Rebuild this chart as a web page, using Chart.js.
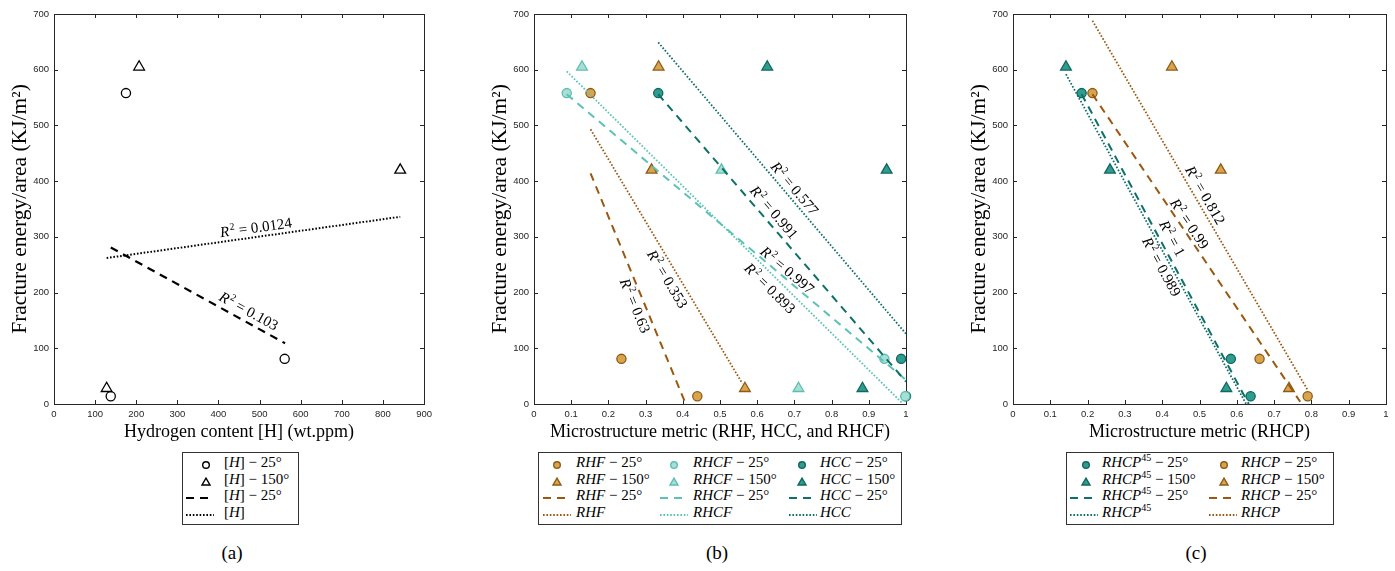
<!DOCTYPE html>
<html><head><meta charset="utf-8">
<script src="https://cdn.jsdelivr.net/npm/chart.js@4.4.1/dist/chart.umd.min.js"></script>
<style>
body{margin:0;background:#fff;width:1395px;height:571px;position:relative;overflow:hidden;font-family:'Liberation Serif',serif;}
.cv{position:absolute;top:0;}
.legend{position:absolute;border:1px solid #333;box-sizing:border-box;background:#fff;}
.li{position:absolute;font-size:15px;line-height:16px;height:16px;white-space:nowrap;color:#000}
.sw{position:absolute;}
.cap{position:absolute;font-size:19px;line-height:20px;transform:translateX(-50%);top:543px}
i{font-style:italic}
sup{font-size:10px;line-height:0;vertical-align:0;position:relative;top:-6px}
</style></head><body>
<div class="cv" style="left:0px"><canvas id="ca" width="437" height="450"></canvas></div>
<div class="cv" style="left:480px"><canvas id="cb" width="436" height="450"></canvas></div>
<div class="cv" style="left:959px"><canvas id="cc" width="437" height="450"></canvas></div>
<div id="legends"></div>
<div class="cap" style="left:232px">(a)</div>
<div class="cap" style="left:717px">(b)</div>
<div class="cap" style="left:1196px">(c)</div>
<script>
// ---------- tick values / labels ----------
const yTicks = [0, 100, 200, 300, 400, 500, 600, 700];
const yTickLabels = ['0', '100', '200', '300', '400', '500', '600', '700'];
const xTicksH = [0, 100, 200, 300, 400, 500, 600, 700, 800, 900];
const xTickLabelsH = ['0', '100', '200', '300', '400', '500', '600', '700', '800', '900'];
const xTicksM = [0, 0.1, 0.2, 0.3, 0.4, 0.5, 0.6, 0.7, 0.8, 0.9, 1];
const xTickLabelsM = ['0', '0.1', '0.2', '0.3', '0.4', '0.5', '0.6', '0.7', '0.8', '0.9', '1'];

// ---------- measured fracture energy (y) ----------
const energy25 = [558, 81, 14];
const energy150 = [605, 420, 28];

// ---------- panel (a): hydrogen content ----------
const hydrogen25 = [175, 561, 138];
const hydrogen150 = [207, 842, 128];
const fitH25 = [[138, 281], [562, 109]];
const fitH = [[128, 262], [842, 336]];

// ---------- panel (b): microstructure metrics ----------
const rhf25 = [0.152, 0.235, 0.439];
const rhf150 = [0.335, 0.316, 0.567];
const rhcf25 = [0.088, 0.942, 0.998];
const rhcf150 = [0.129, 0.504, 0.711];
const hcc25 = [0.334, 0.987, 1.0];
const hcc150 = [0.627, 0.948, 0.883];
const fitRHF25 = [[0.152, 414], [0.408, 0]];
const fitRHF = [[0.152, 493], [0.560, 37]];
const fitRHCF25 = [[0.088, 556], [1.0, 43]];
const fitRHCF = [[0.088, 597], [0.991, 1]];
const fitHCC25 = [[0.334, 556], [1.0, 40]];
const fitHCC = [[0.334, 649], [1.0, 126]];

// ---------- panel (c): RHCP ----------
const rhcp45_25 = [0.184, 0.584, 0.637];
const rhcp45_150 = [0.142, 0.260, 0.572];
const rhcp25 = [0.213, 0.661, 0.790];
const rhcp150 = [0.426, 0.557, 0.740];
const fitRHCP45_25 = [[0.184, 556], [0.632, 0]];
const fitRHCP45 = [[0.142, 592], [0.625, 0]];
const fitRHCP25 = [[0.213, 556], [0.770, 4]];
const fitRHCP = [[0.213, 688], [0.790, 25]];

// ---------- R^2 annotations ----------
const r2A = ['0.0124', '0.103'];
const r2B = ['0.577', '0.991', '0.997', '0.893', '0.353', '0.63'];
const r2C = ['0.812', '0.99', '1', '0.989'];

// ---------- colours ----------
const brownFill = '#D8A44E', brownEdge = '#8E5B17', brownLine = '#9A5810';
const lightFill = '#A8DED5', lightEdge = '#5CBFB2', lightLine = '#5CC2B5';
const darkFill = '#2E9C8E', darkEdge = '#12675F', darkLine = '#0E7068';

const SERIF = '"Liberation Serif", "DejaVu Serif", serif';
const SANS = '"Liberation Sans", Arial, sans-serif';

function pts(xs, ys) { return xs.map((x, i) => ({x: x, y: ys[i]})); }
function seg(p) { return p.map(q => ({x: q[0], y: q[1]})); }

function markerDS(xs, ys, style, fill, edge) {
  return {data: pts(xs, ys), pointStyle: style, pointRadius: style === 'triangle' ? 6.2 : 4.6,
    pointBackgroundColor: fill, pointBorderColor: edge, pointBorderWidth: 1.3,
    showLine: false, order: 2, clip: false};
}
function lineDS(p, color, dashed, w) {
  return {data: seg(p), showLine: true, pointRadius: 0, borderColor: color,
    borderWidth: w || (dashed ? 2 : 1.8), borderDash: dashed ? [8, 6] : [1.6, 1.8],
    order: 0, clip: false, tension: 0};
}

const framePlugin = {
  id: 'frame',
  beforeDatasetsDraw(chart) {
    const {ctx, chartArea: a} = chart;
    const xs = chart.scales.x, ys = chart.scales.y;
    ctx.save();
    ctx.strokeStyle = '#262626';
    ctx.lineWidth = 1;
    ctx.strokeRect(Math.round(a.left) + 0.5, Math.round(a.top) + 0.5, Math.round(a.right - a.left), Math.round(a.bottom - a.top));
    ctx.beginPath();
    xs.ticks.forEach(t => {
      const px = Math.round(xs.getPixelForValue(t.value)) + 0.5;
      ctx.moveTo(px, a.bottom); ctx.lineTo(px, a.bottom - 4);
      ctx.moveTo(px, a.top); ctx.lineTo(px, a.top + 4);
    });
    ys.ticks.forEach(t => {
      const py = Math.round(ys.getPixelForValue(t.value)) + 0.5;
      ctx.moveTo(a.left, py); ctx.lineTo(a.left + 4, py);
      ctx.moveTo(a.right, py); ctx.lineTo(a.right - 4, py);
    });
    ctx.stroke();
    ctx.restore();
  }
};

const r2Plugin = {
  id: 'r2',
  afterDatasetsDraw(chart, args, opts) {
    const ctx = chart.ctx, xs = chart.scales.x, ys = chart.scales.y;
    (opts.labels || []).forEach(l => {
      const d = chart.data.datasets[l.ds].data;
      const x1 = xs.getPixelForValue(d[0].x), y1 = ys.getPixelForValue(d[0].y);
      const x2 = xs.getPixelForValue(d[1].x), y2 = ys.getPixelForValue(d[1].y);
      const ang = Math.atan2(y2 - y1, x2 - x1);
      const px = xs.getPixelForValue(l.x), py = ys.getPixelForValue(l.y);
      ctx.save();
      ctx.translate(px, py);
      ctx.rotate(ang);
      ctx.fillStyle = '#000';
      ctx.textBaseline = 'alphabetic';
      ctx.textAlign = 'left';
      const fR = 'italic 15px ' + SERIF, f2 = '10px ' + SERIF, fT = '15px ' + SERIF;
      ctx.font = fR; const wR = ctx.measureText('R').width;
      ctx.font = f2; const w2 = ctx.measureText('2').width;
      const rest = ' = ' + l.text;
      ctx.font = fT; const wT = ctx.measureText(rest).width;
      let cx = -(wR + w2 + 1 + wT) / 2;
      ctx.font = fR; ctx.fillText('R', cx, 5); cx += wR + 1;
      ctx.font = f2; ctx.fillText('2', cx, -1); cx += w2;
      ctx.font = fT; ctx.fillText(rest, cx, 5);
      ctx.restore();
    });
  }
};

function scalesFor(xMin, xMax, xTicks, xLabels, xTitle) {
  return {
    x: {type: 'linear', min: xMin, max: xMax,
      afterBuildTicks: s => { s.ticks = xTicks.map(v => ({value: v})); },
      afterFit: s => { s.height = 46; },
      ticks: {autoSkip: false, maxRotation: 0, padding: 5, color: '#262626',
        font: {family: SANS, size: 9.5}, callback: (v, i) => xLabels[i]},
      grid: {display: false, drawTicks: false}, border: {display: false},
      title: {display: true, text: xTitle, color: '#000', font: {family: SERIF, size: 18},
        padding: {top: 0, bottom: 7}}},
    y: {type: 'linear', min: 0, max: 700,
      afterBuildTicks: s => { s.ticks = yTicks.map(v => ({value: v})); },
      afterFit: s => { s.width = 54; },
      ticks: {autoSkip: false, padding: 5, color: '#262626',
        font: {family: SANS, size: 9.5}, callback: (v, i) => yTickLabels[i]},
      grid: {display: false, drawTicks: false}, border: {display: false},
      title: {display: true, text: 'Fracture energy/area (KJ/m\u00B2)', color: '#000',
        font: {family: SERIF, size: 21.5}, padding: {top: 7, bottom: 0}}}
  };
}

function makeChart(id, datasets, scales, labels) {
  return new Chart(document.getElementById(id), {
    type: 'scatter',
    data: {datasets: datasets},
    options: {
      responsive: false, animation: false, devicePixelRatio: 1,
      layout: {padding: {top: 14, right: 10, left: 0, bottom: 0}},
      plugins: {legend: {display: false}, tooltip: {enabled: false}, r2: {labels: labels}},
      scales: scales
    },
    plugins: [framePlugin, r2Plugin]
  });
}

// Panel (a)
makeChart('ca', [
  lineDS(fitH25, '#000', true, 2.2),
  lineDS(fitH, '#000', false, 2),
  markerDS(hydrogen25, energy25, 'circle', 'rgba(0,0,0,0)', '#000'),
  markerDS(hydrogen150, energy150, 'triangle', 'rgba(0,0,0,0)', '#000')
], scalesFor(0, 900, xTicksH, xTickLabelsH, 'Hydrogen content [H] (wt.ppm)'), [
  {ds: 1, x: 491, y: 317, text: r2A[0]},
  {ds: 0, x: 474, y: 167, text: r2A[1]}
]);

// Panel (b)
makeChart('cb', [
  lineDS(fitHCC, darkLine, false),      //0
  lineDS(fitHCC25, darkLine, true),     //1
  lineDS(fitRHCF25, lightLine, true),   //2
  lineDS(fitRHCF, lightLine, false),    //3
  lineDS(fitRHF, brownLine, false),     //4
  lineDS(fitRHF25, brownLine, true),    //5
  markerDS(rhf25, energy25, 'circle', brownFill, brownEdge),
  markerDS(rhf150, energy150, 'triangle', brownFill, brownEdge),
  markerDS(rhcf25, energy25, 'circle', lightFill, lightEdge),
  markerDS(rhcf150, energy150, 'triangle', lightFill, lightEdge),
  markerDS(hcc25, energy25, 'circle', darkFill, darkEdge),
  markerDS(hcc150, energy150, 'triangle', darkFill, darkEdge)
], scalesFor(0, 1, xTicksM, xTickLabelsM, 'Microstructure metric (RHF, HCC, and RHCF)'), [
  {ds: 0, x: 0.701, y: 387, text: r2B[0]},
  {ds: 1, x: 0.6455, y: 344, text: r2B[1]},
  {ds: 2, x: 0.681, y: 240.5, text: r2B[2]},
  {ds: 3, x: 0.6347, y: 207.7, text: r2B[3]},
  {ds: 4, x: 0.359, y: 224.4, text: r2B[4]},
  {ds: 5, x: 0.272, y: 176.5, text: r2B[5]}
]);

// Panel (c)
makeChart('cc', [
  lineDS(fitRHCP, brownLine, false),       //0
  lineDS(fitRHCP25, brownLine, true),      //1
  lineDS(fitRHCP45_25, darkLine, true),    //2
  lineDS(fitRHCP45, darkLine, false),      //3
  markerDS(rhcp45_25, energy25, 'circle', darkFill, darkEdge),
  markerDS(rhcp45_150, energy150, 'triangle', darkFill, darkEdge),
  markerDS(rhcp25, energy25, 'circle', brownFill, brownEdge),
  markerDS(rhcp150, energy150, 'triangle', brownFill, brownEdge)
], scalesFor(0, 1, xTicksM, xTickLabelsM, 'Microstructure metric (RHCP)'), [
  {ds: 0, x: 0.5156, y: 375, text: r2C[0]},
  {ds: 1, x: 0.4736, y: 323.7, text: r2C[1]},
  {ds: 2, x: 0.427, y: 297.4, text: r2C[2]},
  {ds: 3, x: 0.3985, y: 246.5, text: r2C[3]}
]);

// ---------- legends (HTML) ----------
function swatch(kind, fill, edge) {
  if (kind === 'circle')
    return '<svg width="12" height="12"><circle cx="6" cy="6" r="3.3" fill="' + fill + '" stroke="' + edge + '" stroke-width="1.4"/></svg>';
  if (kind === 'tri')
    return '<svg width="12" height="12"><polygon points="6,2.2 10,9 2,9" fill="' + fill + '" stroke="' + edge + '" stroke-width="1.4"/></svg>';
  if (kind === 'dash')
    return '<svg width="24" height="12"><line x1="0" y1="6" x2="22" y2="6" stroke="' + edge + '" stroke-width="2" stroke-dasharray="8 6"/></svg>';
  return '<svg width="30" height="12"><line x1="0" y1="6" x2="28" y2="6" stroke="' + edge + '" stroke-width="1.8" stroke-dasharray="1.6 1.8"/></svg>';
}
function buildLegend(box, cols, entries) {
  const lg = document.createElement('div');
  lg.className = 'legend';
  lg.style.left = box[0] + 'px'; lg.style.top = box[1] + 'px';
  lg.style.width = box[2] + 'px'; lg.style.height = box[3] + 'px';
  entries.forEach(e => {
    const c = cols[e.col], rowY = 10 + e.row * 16.5;
    const sw = document.createElement('div');
    sw.className = 'sw';
    const isLine = e.kind === 'dash' || e.kind === 'dot';
    sw.style.left = (isLine ? c.line : c.marker - 6) + 'px';
    sw.style.top = (rowY - 6) + 'px';
    sw.style.height = '12px';
    sw.innerHTML = swatch(e.kind, e.fill, e.edge);
    lg.appendChild(sw);
    const t = document.createElement('div');
    t.className = 'li';
    t.style.left = c.text + 'px';
    t.style.top = (rowY - 9) + 'px';
    t.innerHTML = e.html;
    lg.appendChild(t);
  });
  document.getElementById('legends').appendChild(lg);
}
const none = 'none';
buildLegend([182, 452, 117, 73], [{marker: 23, line: 3, text: 41}], [
  {col: 0, row: 0, kind: 'circle', fill: none, edge: '#000', html: '[<i>H</i>] \u2212 25\u00B0'},
  {col: 0, row: 1, kind: 'tri', fill: none, edge: '#000', html: '[<i>H</i>] \u2212 150\u00B0'},
  {col: 0, row: 2, kind: 'dash', fill: none, edge: '#000', html: '[<i>H</i>] \u2212 25\u00B0'},
  {col: 0, row: 3, kind: 'dot', fill: none, edge: '#000', html: '[<i>H</i>]'}
]);
buildLegend([538, 452, 364, 73], [
  {marker: 18, line: 4, text: 37}, {marker: 135, line: 121, text: 154}, {marker: 263, line: 250, text: 281}
], [
  {col: 0, row: 0, kind: 'circle', fill: brownFill, edge: brownEdge, html: '<i>RHF</i> \u2212 25\u00B0'},
  {col: 0, row: 1, kind: 'tri', fill: brownFill, edge: brownEdge, html: '<i>RHF</i> \u2212 150\u00B0'},
  {col: 0, row: 2, kind: 'dash', fill: none, edge: brownLine, html: '<i>RHF</i> \u2212 25\u00B0'},
  {col: 0, row: 3, kind: 'dot', fill: none, edge: brownLine, html: '<i>RHF</i>'},
  {col: 1, row: 0, kind: 'circle', fill: lightFill, edge: lightEdge, html: '<i>RHCF</i> \u2212 25\u00B0'},
  {col: 1, row: 1, kind: 'tri', fill: lightFill, edge: lightEdge, html: '<i>RHCF</i> \u2212 150\u00B0'},
  {col: 1, row: 2, kind: 'dash', fill: none, edge: lightLine, html: '<i>RHCF</i> \u2212 25\u00B0'},
  {col: 1, row: 3, kind: 'dot', fill: none, edge: lightLine, html: '<i>RHCF</i>'},
  {col: 2, row: 0, kind: 'circle', fill: darkFill, edge: darkEdge, html: '<i>HCC</i> \u2212 25\u00B0'},
  {col: 2, row: 1, kind: 'tri', fill: darkFill, edge: darkEdge, html: '<i>HCC</i> \u2212 150\u00B0'},
  {col: 2, row: 2, kind: 'dash', fill: none, edge: darkLine, html: '<i>HCC</i> \u2212 25\u00B0'},
  {col: 2, row: 3, kind: 'dot', fill: none, edge: darkLine, html: '<i>HCC</i>'}
]);
buildLegend([1066, 452, 268, 73], [
  {marker: 19, line: 3, text: 35}, {marker: 157, line: 142, text: 174}
], [
  {col: 0, row: 0, kind: 'circle', fill: darkFill, edge: darkEdge, html: '<i>RHCP</i><sup>45</sup> \u2212 25\u00B0'},
  {col: 0, row: 1, kind: 'tri', fill: darkFill, edge: darkEdge, html: '<i>RHCP</i><sup>45</sup> \u2212 150\u00B0'},
  {col: 0, row: 2, kind: 'dash', fill: none, edge: darkLine, html: '<i>RHCP</i><sup>45</sup> \u2212 25\u00B0'},
  {col: 0, row: 3, kind: 'dot', fill: none, edge: darkLine, html: '<i>RHCP</i><sup>45</sup>'},
  {col: 1, row: 0, kind: 'circle', fill: brownFill, edge: brownEdge, html: '<i>RHCP</i> \u2212 25\u00B0'},
  {col: 1, row: 1, kind: 'tri', fill: brownFill, edge: brownEdge, html: '<i>RHCP</i> \u2212 150\u00B0'},
  {col: 1, row: 2, kind: 'dash', fill: none, edge: brownLine, html: '<i>RHCP</i> \u2212 25\u00B0'},
  {col: 1, row: 3, kind: 'dot', fill: none, edge: brownLine, html: '<i>RHCP</i>'}
]);
</script>
</body></html>
